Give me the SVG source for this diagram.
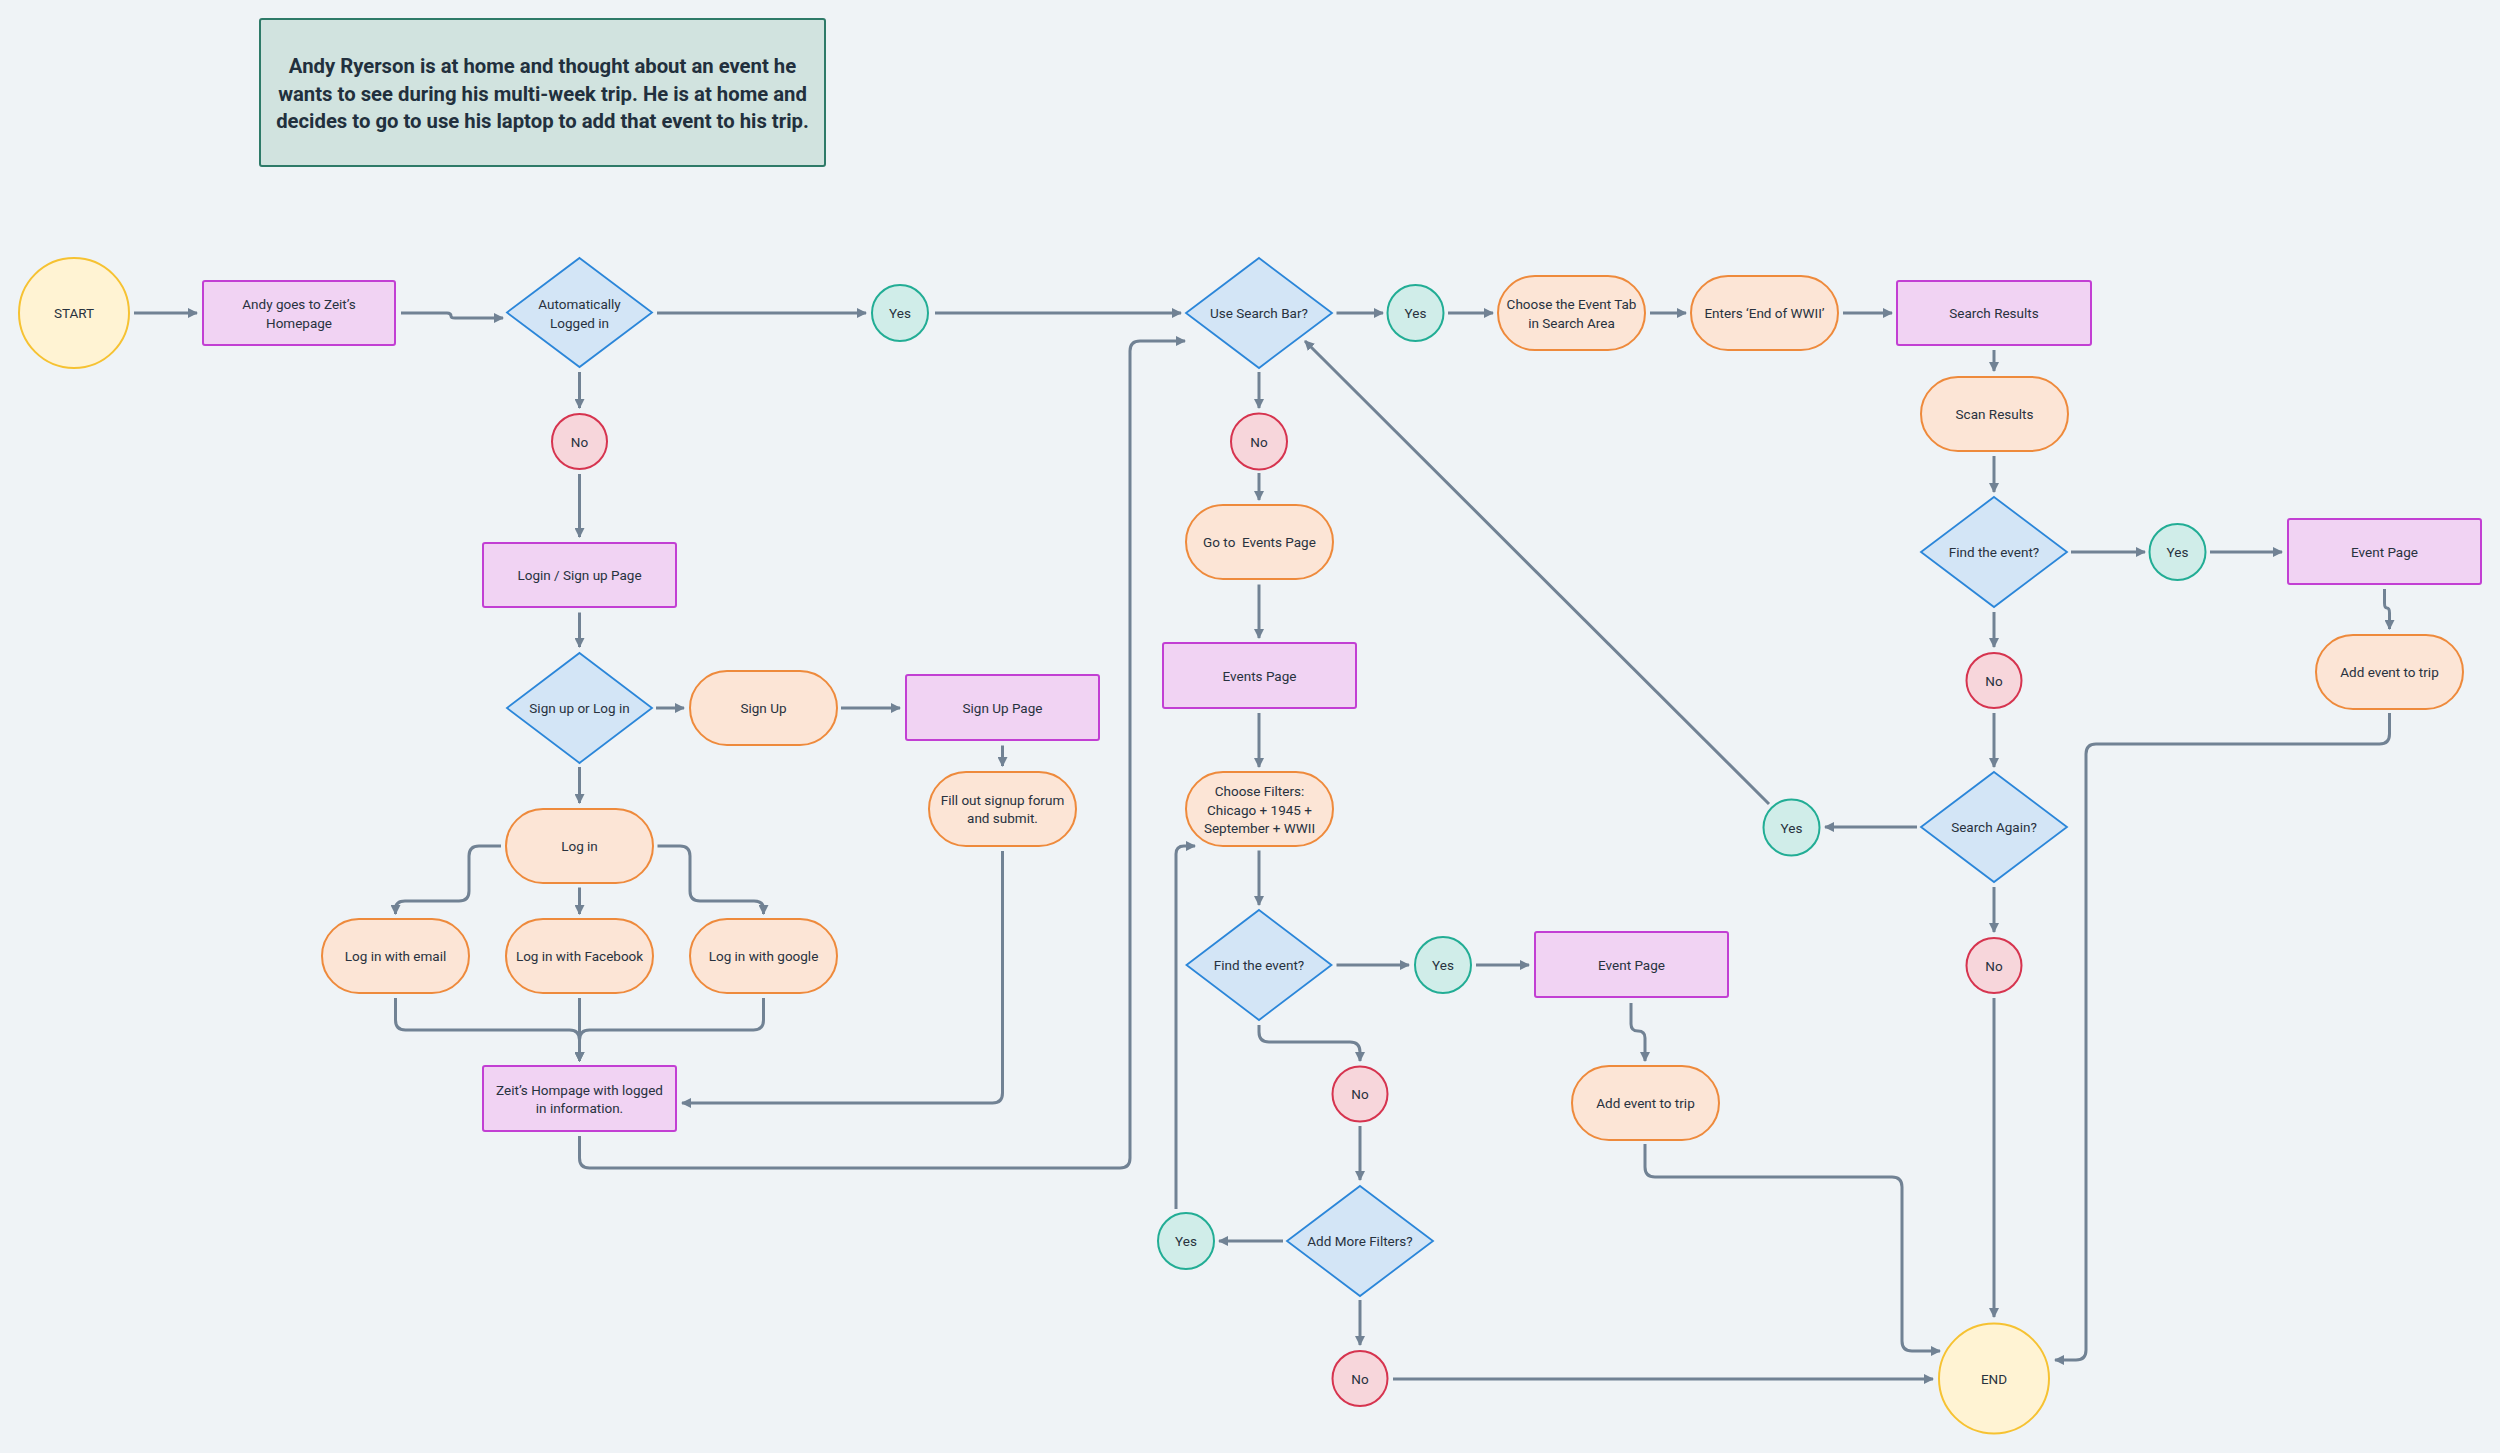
<svg xmlns="http://www.w3.org/2000/svg" width="2500" height="1453" viewBox="0 0 2500 1453">
<defs>
<marker id="arr" viewBox="0 0 10 10" refX="9" refY="5" markerWidth="10" markerHeight="10" markerUnits="userSpaceOnUse" orient="auto">
<path d="M0,0 L10,5 L0,10 z" fill="#718294"/>
</marker>
<style>
.bg{fill:#eff3f6}
.page{fill:#f1d3f3;stroke:#c23fd3;stroke-width:2}
.dec{fill:#d3e5f6;stroke:#2b86d9;stroke-width:1.8}
.act{fill:#fce5d6;stroke:#ee8a3c;stroke-width:2}
.yes{fill:#d0ede9;stroke:#22ad95;stroke-width:2}
.no{fill:#f7d6db;stroke:#d6344f;stroke-width:2}
.term{fill:#fff3d3;stroke:#f6c232;stroke-width:2}
.note{fill:#d1e3df;stroke:#2e7a68;stroke-width:2}
text{font-family:Roboto,"Liberation Sans",sans-serif;fill:#28323e;font-size:13.5px;text-anchor:middle;dominant-baseline:central}
.hd{font-size:20.3px;font-weight:700;fill:#22303d}
.c path{fill:none;stroke:#718294;stroke-width:3;stroke-linejoin:round;marker-end:url(#arr)}
</style>
</defs>
<rect class="bg" x="0" y="0" width="2500" height="1453"/>

<g id="note">
<rect class="note" x="260" y="19" width="565" height="147" rx="2"/>
<text class="hd" x="542.5" y="66">Andy Ryerson is at home and thought about an event he</text>
<text class="hd" x="542.5" y="93.5">wants to see during his multi-week trip. He is at home and</text>
<text class="hd" x="542.5" y="121">decides to go to use his laptop to add that event to his trip.</text>
</g>

<g class="c" id="connectors">
<path d="M134 313 H197"/>
<path d="M401 313 H447 Q451 313 451 316 Q451 318 455 318 H503"/>
<path d="M657 313 H866"/>
<path d="M935 313 H1181"/>
<path d="M579.5 372 V408"/>
<path d="M579.5 474 V537"/>
<path d="M579.5 612.5 V647"/>
<path d="M656 708 H684"/>
<path d="M841 708 H900"/>
<path d="M1002.5 745.5 V766"/>
<path d="M579.5 767 V803"/>
<path d="M501 846 H479 Q469 846 469 856 V891 Q469 901 459 901 H405 Q395.5 901 395.5 909 V914"/>
<path d="M579.5 887.5 V914"/>
<path d="M657.5 846 H680 Q690 846 690 856 V891 Q690 901 700 901 H754 Q763.5 901 763.5 909 V914"/>
<path d="M395.5 998 V1020 Q395.5 1030 405.5 1030 H569.5 Q579.5 1030 579.5 1040 V1061"/>
<path d="M579.5 998 V1061"/>
<path d="M763.5 998 V1020 Q763.5 1030 753.5 1030 H589.5 Q579.5 1030 579.5 1040 V1061"/>
<path d="M1002.5 851 V1093 Q1002.5 1103 992.5 1103 H682"/>
<path d="M579.5 1136 V1158 Q579.5 1168 589.5 1168 H1120 Q1130 1168 1130 1158 V351 Q1130 341 1140 341 H1185"/>
<path d="M1336.5 313 H1383"/>
<path d="M1448 313 H1493"/>
<path d="M1650 313 H1686"/>
<path d="M1843 313 H1892"/>
<path d="M1259 372 V408"/>
<path d="M1259 473 V500"/>
<path d="M1259 584.5 V638"/>
<path d="M1259 713 V767"/>
<path d="M1259 850.5 V905"/>
<path d="M1336.5 965 H1409"/>
<path d="M1476 965 H1529"/>
<path d="M1631 1003 V1024 Q1631 1031 1638 1031 Q1645 1031 1645 1038 V1061"/>
<path d="M1645 1144 V1167 Q1645 1177 1655 1177 H1892 Q1902 1177 1902 1187 V1341 Q1902 1351 1912 1351 H1940"/>
<path d="M1259 1025 V1032 Q1259 1042 1269 1042 H1350 Q1360 1042 1360 1052 V1061"/>
<path d="M1360 1126 V1180"/>
<path d="M1283 1241 H1219"/>
<path d="M1176 1209 V854 Q1176 846 1184 846 H1195"/>
<path d="M1360 1300 V1345"/>
<path d="M1393 1379 H1933"/>
<path d="M1994 350 V371"/>
<path d="M1994 456 V492"/>
<path d="M2071 552 H2145"/>
<path d="M2210 552 H2282"/>
<path d="M2384.5 589 V603 Q2384.5 608 2387 608 Q2389.5 608 2389.5 613 V629"/>
<path d="M2389.5 713 V734 Q2389.5 744 2379.5 744 H2096 Q2086 744 2086 754 V1350 Q2086 1360 2076 1360 H2055"/>
<path d="M1994 612 V647"/>
<path d="M1994 713 V767"/>
<path d="M1917 827 H1825"/>
<path d="M1769 804 L1305 341"/>
<path d="M1994 887 V932"/>
<path d="M1994 998 V1317"/>
</g>

<g id="start"><circle class="term" cx="74" cy="313" r="55"/><text x="74" y="313">START</text></g>
<g id="andy-home"><rect class="page" x="203" y="281" width="192" height="64" rx="2"/><text x="299" y="304">Andy goes to Zeit’s</text><text x="299" y="322.5">Homepage</text></g>
<g id="auto-logged"><path class="dec" d="M579.5 258 L652 312.5 L579.5 367 L507 312.5 Z"/><text x="579.5" y="304">Automatically</text><text x="579.5" y="322.5">Logged in</text></g>
<g id="yes-auto"><circle class="yes" cx="900" cy="313" r="28"/><text x="900" y="313">Yes</text></g>
<g id="no-auto"><circle class="no" cx="579.5" cy="441.5" r="27.5"/><text x="579.5" y="441.5">No</text></g>
<g id="login-page"><rect class="page" x="483" y="543" width="193" height="64" rx="2"/><text x="579.5" y="575">Login / Sign up Page</text></g>
<g id="signup-or-login"><path class="dec" d="M579.5 653 L652 708 L579.5 763 L507 708 Z"/><text x="579.5" y="708">Sign up or Log in</text></g>
<g id="sign-up"><rect class="act" x="690" y="671" width="147" height="74" rx="37"/><text x="763.5" y="708">Sign Up</text></g>
<g id="sign-up-page"><rect class="page" x="906" y="675" width="193" height="65" rx="2"/><text x="1002.5" y="707.5">Sign Up Page</text></g>
<g id="fill-signup"><rect class="act" x="929" y="772" width="147" height="74" rx="37"/><text x="1002.5" y="800">Fill out signup forum</text><text x="1002.5" y="818">and submit.</text></g>
<g id="log-in"><rect class="act" x="506" y="809" width="147" height="74" rx="37"/><text x="579.5" y="846">Log in</text></g>
<g id="login-email"><rect class="act" x="322" y="919" width="147" height="74" rx="37"/><text x="395.5" y="956">Log in with email</text></g>
<g id="login-facebook"><rect class="act" x="506" y="919" width="147" height="74" rx="37"/><text x="579.5" y="956">Log in with Facebook</text></g>
<g id="login-google"><rect class="act" x="690" y="919" width="147" height="74" rx="37"/><text x="763.5" y="956">Log in with google</text></g>
<g id="zeit-logged"><rect class="page" x="483" y="1066" width="193" height="65" rx="2"/><text x="579.5" y="1089.5">Zeit’s Hompage with logged</text><text x="579.5" y="1108">in information.</text></g>

<g id="use-search-bar"><path class="dec" d="M1259 258 L1332 313 L1259 368 L1186 313 Z"/><text x="1259" y="313">Use Search Bar?</text></g>
<g id="yes-search"><circle class="yes" cx="1415.5" cy="313" r="28"/><text x="1415.5" y="313">Yes</text></g>
<g id="choose-tab"><rect class="act" x="1498" y="276" width="147" height="74" rx="37"/><text x="1571.5" y="304">Choose the Event Tab</text><text x="1571.5" y="322.5">in Search Area</text></g>
<g id="enters"><rect class="act" x="1691" y="276" width="147" height="74" rx="37"/><text x="1764.5" y="313">Enters ‘End of WWII’</text></g>
<g id="search-results"><rect class="page" x="1897" y="281" width="194" height="64" rx="2"/><text x="1994" y="313">Search Results</text></g>
<g id="scan-results"><rect class="act" x="1921" y="377" width="147" height="74" rx="37"/><text x="1994.5" y="414">Scan Results</text></g>
<g id="find-event-2"><path class="dec" d="M1994 497 L2067 552 L1994 607 L1921 552 Z"/><text x="1994" y="552">Find the event?</text></g>
<g id="yes-find-2"><circle class="yes" cx="2177.5" cy="552" r="28"/><text x="2177.5" y="552">Yes</text></g>
<g id="event-page-2"><rect class="page" x="2288" y="519" width="193" height="65" rx="2"/><text x="2384.5" y="551.5">Event Page</text></g>
<g id="add-trip-2"><rect class="act" x="2316" y="635" width="147" height="74" rx="37"/><text x="2389.5" y="672">Add event to trip</text></g>
<g id="no-find-2"><circle class="no" cx="1994" cy="680.5" r="27.5"/><text x="1994" y="680.5">No</text></g>
<g id="search-again"><path class="dec" d="M1994 772 L2067 827 L1994 882 L1921 827 Z"/><text x="1994" y="827">Search Again?</text></g>
<g id="yes-again"><circle class="yes" cx="1791.5" cy="827.5" r="28"/><text x="1791.5" y="827.5">Yes</text></g>
<g id="no-again"><circle class="no" cx="1994" cy="965.5" r="27.5"/><text x="1994" y="965.5">No</text></g>
<g id="end"><circle class="term" cx="1994" cy="1378.5" r="55"/><text x="1994" y="1378.5">END</text></g>

<g id="no-search"><circle class="no" cx="1259" cy="441.5" r="28"/><text x="1259" y="441.5">No</text></g>
<g id="go-events"><rect class="act" x="1186" y="505" width="147" height="74" rx="37"/><text x="1259.5" y="542" xml:space="preserve">Go to  Events Page</text></g>
<g id="events-page"><rect class="page" x="1163" y="643" width="193" height="65" rx="2"/><text x="1259.5" y="675.5">Events Page</text></g>
<g id="choose-filters"><rect class="act" x="1186" y="772" width="147" height="74" rx="37"/><text x="1259.5" y="791">Choose Filters:</text><text x="1259.5" y="809.5">Chicago + 1945 +</text><text x="1259.5" y="828">September + WWII</text></g>
<g id="find-event-1"><path class="dec" d="M1259 910 L1331.5 965 L1259 1020 L1186.5 965 Z"/><text x="1259" y="965">Find the event?</text></g>
<g id="yes-find-1"><circle class="yes" cx="1443" cy="965" r="28"/><text x="1443" y="965">Yes</text></g>
<g id="event-page-1"><rect class="page" x="1535" y="932" width="193" height="65" rx="2"/><text x="1631.5" y="964.5">Event Page</text></g>
<g id="add-trip-1"><rect class="act" x="1572" y="1066" width="147" height="74" rx="37"/><text x="1645.5" y="1103">Add event to trip</text></g>
<g id="no-find-1"><circle class="no" cx="1360" cy="1094" r="27.5"/><text x="1360" y="1094">No</text></g>
<g id="add-more-filters"><path class="dec" d="M1360 1186 L1433 1241 L1360 1296 L1287 1241 Z"/><text x="1360" y="1241">Add More Filters?</text></g>
<g id="yes-more"><circle class="yes" cx="1186" cy="1241" r="28"/><text x="1186" y="1241">Yes</text></g>
<g id="no-more"><circle class="no" cx="1360" cy="1378.5" r="27.5"/><text x="1360" y="1378.5">No</text></g>
</svg>
